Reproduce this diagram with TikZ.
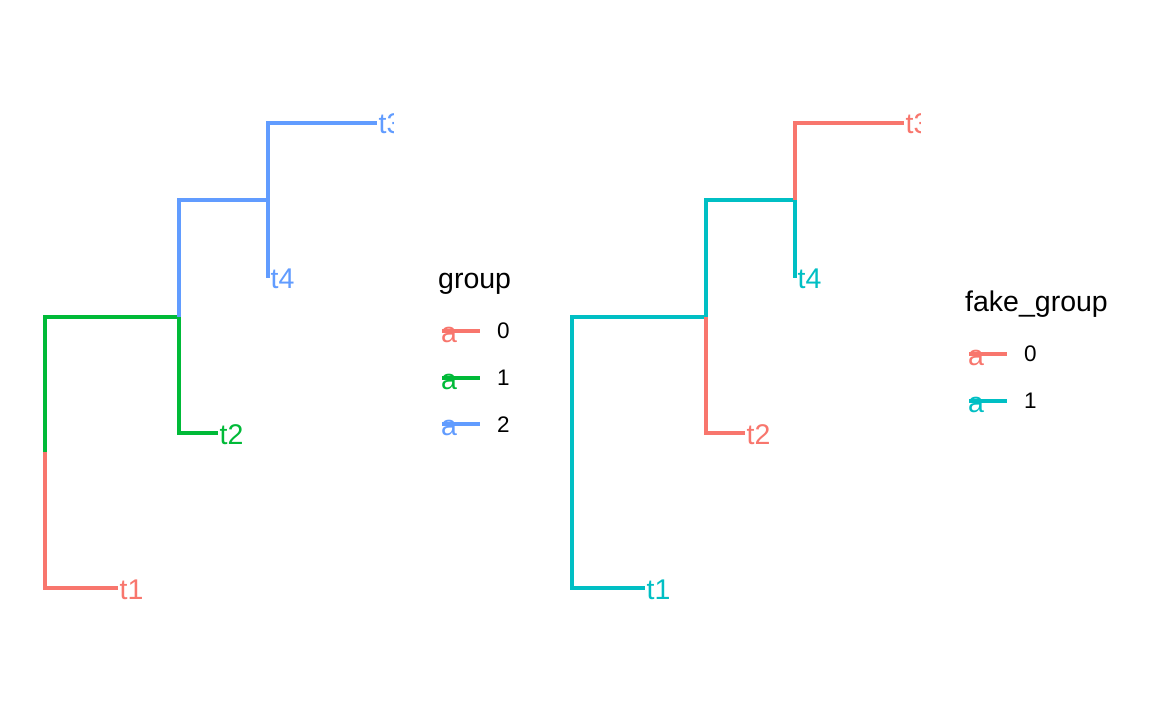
\documentclass[tikz,border=0pt]{standalone}
\usepackage{fontspec}
\setmainfont{Liberation Sans}
\usetikzlibrary{calc}
\definecolor{cred}{HTML}{F8766D}
\definecolor{cgreen}{HTML}{00BA38}
\definecolor{cblue}{HTML}{619CFF}
\definecolor{ccyan}{HTML}{00BFC4}
\tikzset{
  branch/.style={line width=3.1pt, line cap=butt, line join=miter},
  tiplab/.style={anchor=base west, inner sep=0pt, font=\fontsize{28.5}{32}\selectfont},
  legtitle/.style={anchor=base west, inner sep=0pt, font=\fontsize{28.5}{32}\selectfont},
  leglab/.style={anchor=base west, inner sep=0pt, font=\fontsize{22.5}{26}\selectfont},
  keyglyph/.style={anchor=base west, inner sep=0pt, font=\fontsize{28.5}{32}\selectfont},
}
\begin{document}
\begin{tikzpicture}[x=1pt,y=-1pt]
\useasboundingbox (0,0) rectangle (1152,711);
\fill[white] (0,0) rectangle (1152,711);

% ---------- left tree ----------
\begin{scope}
\clip (0,0) rectangle (393,711);
\coordinate (Lroot) at (45,452);
\coordinate (Ln1) at (179,317);
\coordinate (Ln2) at (268,200);
\coordinate (Lt1) at (118,588);
\coordinate (Lt2) at (218,433);
\coordinate (Lt3) at (377,123);
\coordinate (Lt4) at (268,278);
\draw[branch, cred] (Lroot) |- (Lt1);
\draw[branch, cgreen] (Lroot) |- (Ln1);
\draw[branch, cgreen] (Ln1) |- (Lt2);
\draw[branch, cblue] (Ln1) |- (Ln2);
\draw[branch, cblue] (Ln2) |- (Lt3);
\draw[branch, cblue] (Ln2) -- (Lt4);
\node[tiplab, text=cred] (Lt1lab) at ($(Lt1)+(1.5,11)$) {t1};
\node[tiplab, text=cgreen] (Lt2lab) at ($(Lt2)+(1.5,11)$) {t2};
\node[tiplab, text=cblue] (Lt3lab) at ($(Lt3)+(1.5,11)$) {t3};
\node[tiplab, text=cblue] (Lt4lab) at ($(Lt4)+(2.5,11)$) {t4};
\end{scope}

% ---------- right tree ----------
\begin{scope}
\clip (527,0) rectangle (920,711);
\coordinate (Rroot) at (572,452);
\coordinate (Rn1) at (706,317);
\coordinate (Rn2) at (795,200);
\coordinate (Rt1) at (645,588);
\coordinate (Rt2) at (745,433);
\coordinate (Rt3) at (904,123);
\coordinate (Rt4) at (795,278);
\draw[branch, ccyan] (Rroot) |- (Rt1);
\draw[branch, ccyan] (Rroot) |- (Rn1);
\draw[branch, cred] (Rn1) |- (Rt2);
\draw[branch, ccyan] (Rn1) |- (Rn2);
\draw[branch, cred] (Rn2) |- (Rt3);
\draw[branch, ccyan] (Rn2) -- (Rt4);
\node[tiplab, text=ccyan] (Rt1lab) at ($(Rt1)+(1.5,11)$) {t1};
\node[tiplab, text=cred] (Rt2lab) at ($(Rt2)+(1.5,11)$) {t2};
\node[tiplab, text=cred] (Rt3lab) at ($(Rt3)+(1.5,11)$) {t3};
\node[tiplab, text=ccyan] (Rt4lab) at ($(Rt4)+(2.5,11)$) {t4};
\end{scope}

% ---------- left legend ----------
\node[legtitle] (Ltitle) at (438,289) {group};
\foreach \i/\c/\y in {0/cred/331, 1/cgreen/378, 2/cblue/424} {
  \node[keyglyph, text=\c] (Lkey\i) at (441,\y+11.5) {a};
  \coordinate (Lks\i) at (442,\y);
  \coordinate (Lke\i) at (480,\y);
  \draw[branch, \c] (Lks\i) -- (Lke\i);
  \node[leglab] (Llab\i) at (497,\y+8) {\i};
}

% ---------- right legend ----------
\node[legtitle] (Rtitle) at (965,312) {fake\_group};
\foreach \i/\c/\y in {0/cred/354, 1/ccyan/401} {
  \node[keyglyph, text=\c] (Rkey\i) at (968,\y+11.5) {a};
  \coordinate (Rks\i) at (969,\y);
  \coordinate (Rke\i) at (1007,\y);
  \draw[branch, \c] (Rks\i) -- (Rke\i);
  \node[leglab] (Rlab\i) at (1024,\y+8) {\i};
}
\end{tikzpicture}
\end{document}
